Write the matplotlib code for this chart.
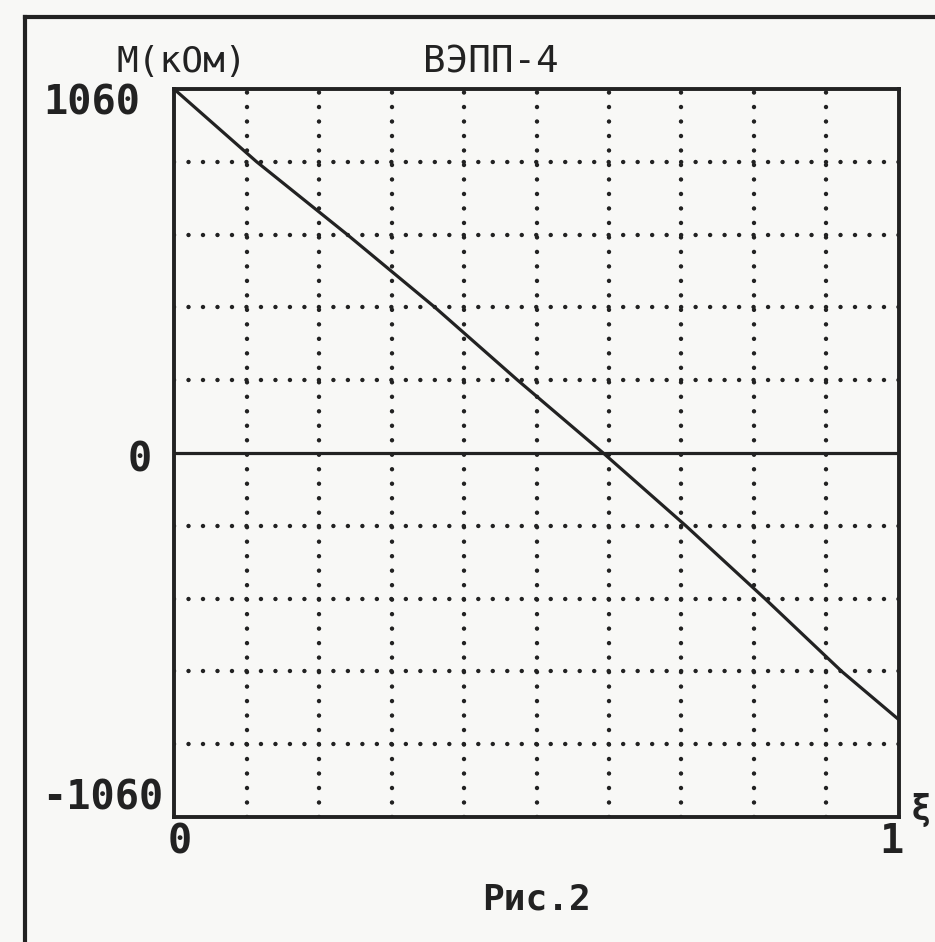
import matplotlib
matplotlib.use("Agg")
import matplotlib.pyplot as plt
from matplotlib.lines import Line2D

# M(xi) at the grid crossings
xi = [0.0, 0.114, 0.239, 0.36, 0.474, 0.592, 0.706, 0.815, 0.921, 1.0]
m_kohm = [1060, 848, 636, 424, 212, 0, -212, -424, -636, -777]

m_max = 1060
grid_x = [i / 10 for i in range(1, 10)]
grid_y = [m_max * k / 5 for k in range(-4, 5) if k != 0]

ink = "#222222"
paper = "#f8f8f6"
font = "DejaVu Sans Mono"

fig = plt.figure(figsize=(9.35, 9.42), dpi=100, facecolor=paper)
ax = fig.add_axes([174 / 935, 125 / 942, 725 / 935, 728 / 942])
ax.set_facecolor(paper)

# dotted grid, round dots ~14.5 px apart
dots = (0, (0.01, 3.25))
for gx in grid_x:
    ax.axvline(gx, color=ink, lw=3.2, linestyle=dots, dash_capstyle="round", zorder=1)
for gy in grid_y:
    ax.axhline(gy, color=ink, lw=3.2, linestyle=dots, dash_capstyle="round", zorder=1)
ax.axhline(0, color=ink, lw=2.3, zorder=2)

ax.plot(xi, m_kohm, color=ink, lw=2.3, zorder=3)

ax.set_xlim(0, 1)
ax.set_ylim(-m_max, m_max)
ax.set_xticks([])
ax.set_yticks([])
for s in ax.spines.values():
    s.set_linewidth(2.8)
    s.set_color(ink)

ytr = ax.get_yaxis_transform()
xtr = ax.get_xaxis_transform()
kw = dict(family=font, weight="bold", color=ink)
ax.text(-0.047, 1020, str(m_max), transform=ytr, ha="right", va="center", fontsize=29, **kw)
ax.text(-0.030, -20, "0", transform=ytr, ha="right", va="center", fontsize=29, **kw)
ax.text(-0.014, -1005, str(-m_max), transform=ytr, ha="right", va="center", fontsize=29, **kw)
ax.text(0.008, -0.034, "0", transform=xtr, ha="center", va="center", fontsize=29, **kw)
ax.text(0.99, -0.034, "1", transform=xtr, ha="center", va="center", fontsize=29, **kw)
ax.text(1.03, -1040, "ξ", transform=ytr, ha="center", va="center", fontsize=25, **kw)

ax.text(0.01, 1.037, "M(кОм)", transform=ax.transAxes, ha="center", va="center",
        fontsize=26, family=font, color=ink)
ax.text(0.437, 1.037, "ВЭПП-4", transform=ax.transAxes, ha="center", va="center",
        fontsize=27, family=font, color=ink)
ax.text(0.5, -0.114, "Рис.2", transform=ax.transAxes, ha="center", va="center",
        fontsize=26, **kw)

# page frame of the scan
fig.add_artist(Line2D([25 / 935, 25 / 935], [0, 1 - 17 / 942], color=ink, lw=3))
fig.add_artist(Line2D([25 / 935, 1], [1 - 17 / 942, 1 - 17 / 942], color=ink, lw=3))

fig.savefig("out.png", dpi=100, facecolor=paper)
